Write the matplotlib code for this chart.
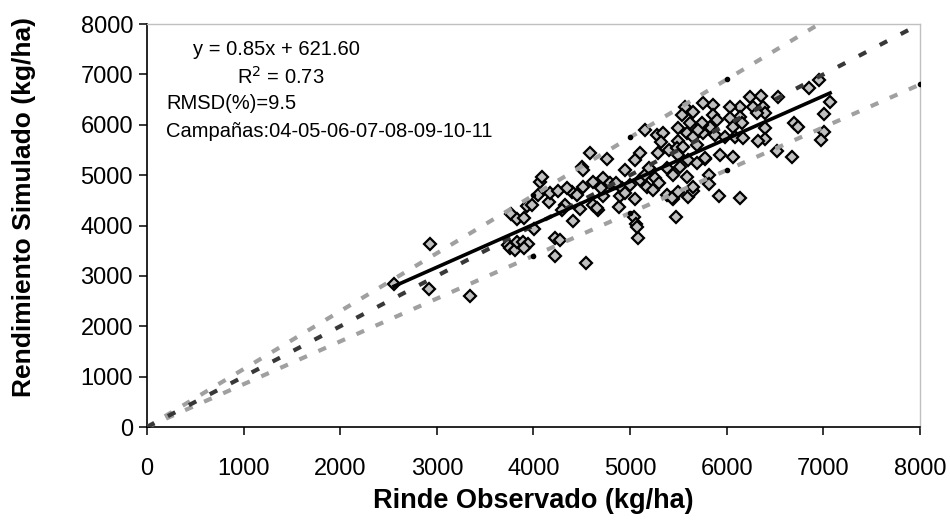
import numpy as np
import matplotlib
matplotlib.use('Agg')
import matplotlib.pyplot as plt

plt.rcParams['font.family'] = ['Liberation Sans', 'DejaVu Sans']
plt.rcParams['lines.scale_dashes'] = False

# observed (x) and simulated (y) yields, kg/ha
obs = [2557, 2930, 2919, 3344, 3768, 3830, 3903, 3934, 3986, 4048, 4006, 3737, 3758, 3810,
       3830, 3892, 3944, 3903, 4068, 4161, 4224, 4275, 4224, 4545, 4410, 4327, 4482, 4617,
       4669, 4721, 4886, 5052, 5041, 5062, 5083, 5445, 5476, 5600, 5652, 4897, 4172, 5921,
       6139, 6957, 6853, 7070, 7008, 7008, 6977, 6698, 6739, 6677, 6522, 6532, 6398, 6398,
       6325, 6242, 6356, 6377, 6273, 6398, 6315, 6139, 6035, 6139, 6035, 6159, 6066, 5859,
       5756, 5859, 5828, 5745, 5756, 5880, 5983, 6087, 6170, 5932, 6066, 5776, 5818, 5818,
       5569, 5538, 5155, 5280, 5342, 5321, 5497, 5621, 5745, 5590, 5652, 5497, 5104, 5052,
       5290, 5404, 5486, 5549, 5694, 4586, 4762, 4503, 4514, 4089, 4255, 4400, 4514, 4617,
       4721, 4793, 4917, 5000, 5104, 5176, 5238, 5259, 5383, 5445, 5518, 5600, 5694, 5776,
       5590, 5652, 5497, 5383, 4658, 5072, 5435,
       4350, 4450, 4700, 4850, 4950, 5150, 5300, 5200, 4950, 5500, 5700, 5900, 5650, 4300]
sim = [2839, 3633, 2739, 2600, 4228, 4129, 4149, 4387, 4407, 4605, 3930, 3613, 3553, 3513,
       3672, 3672, 3633, 3553, 4863, 4466, 3752, 3712, 3394, 3255, 4089, 4407, 4327, 4407,
       4307, 4585, 4367, 4526, 4169, 4030, 3752, 4526, 4169, 4566, 4685, 4585, 4645, 4585,
       4546, 6888, 6729, 6451, 6213, 5856, 5697, 6034, 5955, 5360, 5479, 6551, 5935, 5717,
       5677, 6551, 6570, 6352, 6352, 6233, 6233, 6352, 6352, 6154, 6134, 6034, 5955, 6392,
       6431, 6193, 5955, 5995, 5836, 5796, 5757, 5757, 5737, 5399, 5360, 5320, 5002, 4824,
       6352, 6193, 5896, 5796, 5836, 5657, 5935, 6034, 6034, 5836, 5757, 5677, 5439, 5300,
       5439, 5498, 5538, 5558, 5598, 5439, 5320, 5161, 5101, 4963, 4685, 4665, 4764, 4863,
       4943, 4843, 4744, 4804, 4903, 4764, 4704, 4943, 5141, 5002, 5161, 5300, 5240, 5340,
       4963, 4764, 4665, 4605, 4347, 3970, 4546,
       4750, 4600, 4750, 4850, 4650, 5000, 4850, 5150, 5100, 5400, 5900, 6100, 6250, 4300]

slope = 0.85
intercept = 621.60
ref_x = [0, 4000, 5000, 6000, 8000]
ticks = [0, 1000, 2000, 3000, 4000, 5000, 6000, 7000, 8000]

fig = plt.figure(figsize=(9.5, 5.2), dpi=100)
ax = fig.add_axes([0.1547, 0.1788, 0.8137, 0.775])

ax.plot(obs, sim, 'D', ms=6.6, mfc='#c0c0c0', mec='black', mew=1.6, zorder=2)

rx = np.array(ref_x, dtype=float)
ax.plot(rx, rx * 1.15, color='#a0a0a0', lw=3, dashes=(6, 9), marker='o', ms=3,
        mfc='black', mec='black', zorder=3)
ax.plot(rx, rx * 0.85, color='#a0a0a0', lw=3, dashes=(6, 9), marker='o', ms=3,
        mfc='black', mec='black', zorder=3)
ax.plot(rx, rx, color='#383838', lw=3, dashes=(6, 11), zorder=3)

fx = np.array([min(obs), max(obs)], dtype=float)
ax.plot(fx, slope * fx + intercept, color='black', lw=2.6, zorder=4)

ax.set_xlim(0, 8000)
ax.set_ylim(0, 8000)
ax.set_xticks(ticks)
ax.set_yticks(ticks)
ax.tick_params(direction='out', length=6, width=1.1, labelsize=17)
ax.tick_params(axis='x', pad=16)
ax.tick_params(axis='y', pad=4)

for s in ['left', 'bottom']:
    ax.spines[s].set_color('black')
    ax.spines[s].set_linewidth(1.2)
for s in ['top', 'right']:
    ax.spines[s].set_color('#c0c0c0')
    ax.spines[s].set_linewidth(1.0)

ax.set_xlabel('Rinde Observado (kg/ha)', fontsize=19.5, fontweight='bold', labelpad=6)
ax.set_ylabel('Rendimiento Simulado (kg/ha)', fontsize=19, fontweight='bold')
ax.yaxis.set_label_coords(-0.143, 0.545)

tk = dict(transform=ax.transAxes, fontsize=14.5, va='center', ha='left')
ax.text(0.0595, 0.938, 'y = 0.85x + 621.60', **tk)
ax.text(0.116, 0.868, 'R$^{2}$ = 0.73', **tk)
ax.text(0.0246, 0.804, 'RMSD(%)=9.5', **tk)
ax.text(0.0246, 0.734, 'Campañas:04-05-06-07-08-09-10-11', **tk)

plt.savefig('out.png', dpi=100)
plt.close()
